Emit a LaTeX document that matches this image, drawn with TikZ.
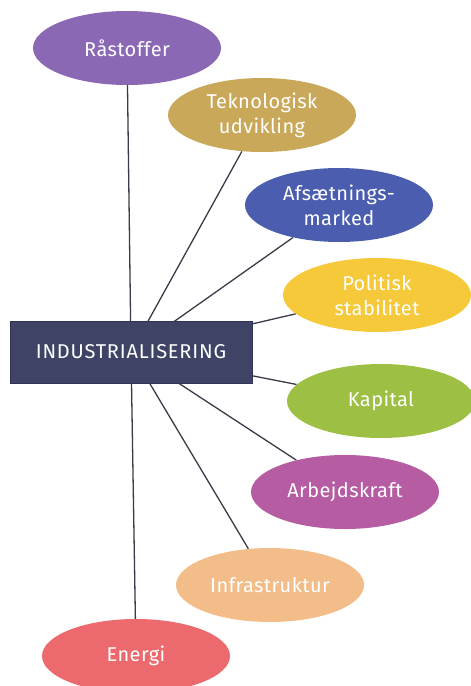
\documentclass[tikz,border=0pt]{standalone}
\usepackage{fontspec}
\setmainfont{Fira Sans}
\usetikzlibrary{backgrounds,shapes.geometric}
\definecolor{cRaa}{HTML}{8A68B4}
\definecolor{cTek}{HTML}{C9A85A}
\definecolor{cAfs}{HTML}{4A5DAE}
\definecolor{cPol}{HTML}{F5C93A}
\definecolor{cKap}{HTML}{9DC044}
\definecolor{cArb}{HTML}{B65CA2}
\definecolor{cInf}{HTML}{F2BD88}
\definecolor{cEne}{HTML}{EC6A6E}
\definecolor{cBox}{HTML}{3F4467}
\definecolor{cBoxD}{HTML}{2E3350}
\definecolor{cLine}{HTML}{3A3B48}
\tikzset{
  oval/.style={ellipse, minimum width=188pt, minimum height=74pt, inner sep=0pt,
    text=white, align=center, font=\fontsize{20}{25}\selectfont\addfontfeatures{LetterSpace=2}},
  rectbox/.style={rectangle, minimum width=242pt, minimum height=62pt, inner sep=0pt,
    fill=cBox, draw=cBoxD, line width=0.8pt, text=white,
    font=\fontsize{20}{24}\selectfont\addfontfeatures{LetterSpace=4}},
  spoke/.style={draw=cLine, line width=1.3pt}
}
\begin{document}
\begin{tikzpicture}[x=1pt,y=-1pt]
\useasboundingbox (0,0) rectangle (471,686);
\node[rectbox] (ind) at (131,352) {INDUSTRIALISERING};
\node[oval, fill=cRaa] (raa) at (127,48) {Råstoffer};
\node[oval, fill=cTek] (tek) at (262,115) {Teknologisk\\udvikling};
\node[oval, fill=cAfs] (afs) at (339,205) {Afsætnings-\\marked};
\node[oval, fill=cPol] (pol) at (377,295) {Politisk\\stabilitet};
\node[oval, fill=cKap] (kap) at (381,401) {Kapital};
\node[oval, fill=cArb] (arb) at (345,492) {Arbejdskraft};
\node[oval, fill=cInf] (inf) at (270,585) {Infrastruktur};
\node[oval, fill=cEne] (ene) at (136,656) {Energi};
\begin{pgfonlayer}{background}
\foreach \t in {raa,tek,afs,pol,kap,arb,inf,ene}
  \draw[spoke] (ind.center) -- (\t);
\end{pgfonlayer}
\end{tikzpicture}
\end{document}
